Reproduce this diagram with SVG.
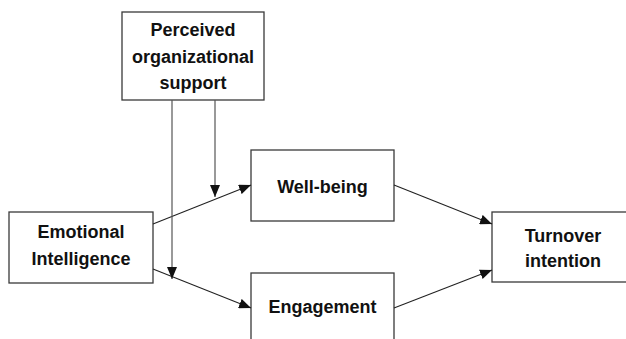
<svg xmlns="http://www.w3.org/2000/svg" width="626" height="339" viewBox="0 0 626 339">
  <style>
    .box { fill: #ffffff; stroke: #3a3a3a; stroke-width: 1.3; }
    .label { font-family: "Liberation Sans", Arial, sans-serif; font-weight: bold; font-size: 18px; fill: #111111; text-anchor: middle; }
    .edge { fill: none; stroke: #222222; stroke-width: 1.1; marker-end: url(#arrow); }
    .drop { fill: none; stroke: #555555; stroke-width: 1.2; marker-end: url(#arrow); }
  </style>
  <defs>
    <marker id="arrow" viewBox="0 0 12 10" refX="12" refY="5" markerWidth="12" markerHeight="10" markerUnits="userSpaceOnUse" orient="auto">
      <path d="M0,0 L12,5 L0,10 z" fill="#111111"/>
    </marker>
  </defs>
  <rect width="626" height="339" fill="#ffffff"/>

  <g id="pos">
    <rect class="box" x="122" y="12" width="142" height="88"/>
    <text class="label" x="193" y="36">Perceived</text>
    <text class="label" x="193" y="62.5">organizational</text>
    <text class="label" x="193" y="89">support</text>
  </g>

  <g id="ei">
    <rect class="box" x="9" y="212" width="144" height="71"/>
    <text class="label" x="81" y="238">Emotional</text>
    <text class="label" x="81" y="265">Intelligence</text>
  </g>

  <g id="wellbeing">
    <rect class="box" x="251" y="150" width="143" height="71"/>
    <text class="label" x="322.5" y="193">Well-being</text>
  </g>

  <g id="engagement">
    <rect class="box" x="251" y="273" width="143" height="80"/>
    <text class="label" x="322.5" y="313">Engagement</text>
  </g>

  <g id="turnover">
    <rect class="box" x="492" y="212" width="142" height="70"/>
    <text class="label" x="563" y="242">Turnover</text>
    <text class="label" x="563" y="267">intention</text>
  </g>

  <g id="connectors">
    <line class="edge" x1="153" y1="224" x2="251" y2="185"/>
    <line class="edge" x1="153" y1="269" x2="251" y2="308"/>
    <line class="edge" x1="394" y1="185" x2="492" y2="224"/>
    <line class="edge" x1="394" y1="308" x2="492" y2="270"/>
    <line class="drop" x1="172" y1="100" x2="172" y2="279"/>
    <line class="drop" x1="215" y1="100" x2="215" y2="197"/>
  </g>
</svg>
